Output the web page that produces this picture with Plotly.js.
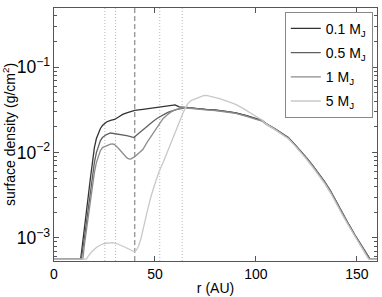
<!DOCTYPE html>
<html>
<head>
<meta charset="utf-8">
<script src="https://cdn.plot.ly/plotly-3.0.1.min.js"></script>
<style>html,body{margin:0;padding:0;background:#fff;}#chart{width:382px;height:297px;}</style>
</head>
<body>
<div id="chart"></div>
<script>
// Radius (AU) and surface density (g/cm^2) for each planet mass
const seriesNames = ["0.1 M<sub>J</sub>", "0.5 M<sub>J</sub>", "1 M<sub>J</sub>", "5 M<sub>J</sub>"];
const seriesColors = ["#333333", "#606060", "#8c8c8c", "#c8c8c8"];

const tailR = [66, 70, 75, 80, 85, 90, 95, 100, 103, 105, 107, 110, 113, 116, 119, 122, 125, 128, 131, 134, 137, 140, 143, 146, 149, 152, 154, 156, 156.5, 160];
const tailSigma = [0.0338, 0.0329, 0.0321, 0.0316, 0.0304, 0.0292, 0.0272, 0.0248, 0.0238, 0.0219, 0.0206, 0.0186, 0.0167, 0.0150, 0.0126, 0.01056, 0.00873, 0.00713, 0.00574, 0.00456, 0.00353, 0.00258, 0.00192, 0.00144, 0.00109, 0.000827, 0.000694, 0.000582, 0.000566, 0.000566];

const r01 = [0, 13.2, 14, 15, 16, 17, 18, 19, 20, 21, 22, 23, 24, 25, 26, 28, 30, 32, 34, 36, 38, 40, 44, 48, 52, 56, 59, 60, 62, 64];
const sigma01 = [0.000566, 0.000566, 0.000805, 0.001209, 0.001968, 0.00312, 0.004944, 0.00805, 0.01145, 0.01461, 0.01719, 0.01916, 0.02078, 0.02194, 0.02285, 0.02379, 0.02445, 0.02616, 0.0280, 0.02916, 0.03037, 0.0312, 0.03205, 0.03293, 0.03384, 0.03477, 0.03524, 0.03621, 0.0343, 0.03384];

const r05 = [0, 13.5, 15, 16, 17, 18, 19, 20, 21, 22, 23, 24, 26, 28, 30, 32, 34, 36, 38, 39.5, 41, 43, 45, 47, 49, 51, 53, 55, 57, 59, 61, 63, 65];
const sigma05 = [0.000566, 0.000566, 0.000973, 0.001501, 0.002379, 0.003572, 0.005362, 0.007627, 0.0100, 0.01209, 0.01384, 0.01501, 0.01628, 0.01696, 0.01673, 0.01651, 0.01628, 0.01585, 0.01542, 0.01501, 0.01606, 0.01766, 0.01942, 0.02135, 0.02316, 0.02512, 0.02688, 0.02838, 0.02996, 0.0312, 0.03205, 0.03267, 0.03338];

const r1 = [0, 14.3, 15, 16, 17, 18, 19, 20, 21, 22, 23, 24, 26, 28, 29, 30, 32, 34, 36, 37, 38, 40, 42, 44, 46, 48, 50, 52, 54, 56, 58, 60, 62, 64];
const sigma1 = [0.000566, 0.000566, 0.000805, 0.001209, 0.001916, 0.002876, 0.004202, 0.005818, 0.007627, 0.00922, 0.01056, 0.01145, 0.01209, 0.01259, 0.01266, 0.01242, 0.01115, 0.00973, 0.00873, 0.00843, 0.00838, 0.00897, 0.0100, 0.01085, 0.01311, 0.01542, 0.01865, 0.02135, 0.02492, 0.02762, 0.02996, 0.03162, 0.03293, 0.03384];

const r5 = [0, 16, 17, 19, 21, 23, 25, 27, 29, 31, 33, 35, 37, 39, 40, 41, 42, 43, 44, 45, 46, 47, 48, 50, 52, 54, 56, 58, 60, 62, 64, 66, 68, 70, 72, 74, 75.5, 78, 82, 86, 90, 94, 98, 101, 103, 105, 107, 110, 113, 116, 119, 122, 125, 128, 131, 134, 137, 140, 143, 146, 149, 152, 154, 155.8, 160];
const sigma5 = [0.000566, 0.000566, 0.000614, 0.000703, 0.000773, 0.000827, 0.000861, 0.000878, 0.00088, 0.000861, 0.000827, 0.000784, 0.000742, 0.000703, 0.000684, 0.000732, 0.000816, 0.000973, 0.001192, 0.001542, 0.001968, 0.002512, 0.003037, 0.004318, 0.005976, 0.007627, 0.0100, 0.01347, 0.01766, 0.02316, 0.02955, 0.03671, 0.0409, 0.0426, 0.04497, 0.04646, 0.04684, 0.04558, 0.04283, 0.03981, 0.03671, 0.0325, 0.02838, 0.02581, 0.02412, 0.0217, 0.0204, 0.0183, 0.0163, 0.0146, 0.0123, 0.0102, 0.0084, 0.0068, 0.0055, 0.00435, 0.00336, 0.00246, 0.00183, 0.00138, 0.00104, 0.00079, 0.00067, 0.000566, 0.000566];

const planetR = 40;
const resonanceR = [25.2, 30.5, 52.4, 63.5];

const xTicks = [0, 50, 100, 150];

function withTail(r, s, scale) {
  return {
    x: r.concat(tailR),
    y: s.concat(tailSigma.map(v => Math.max(v * scale, 0.000566)))
  };
}

const s01 = withTail(r01, sigma01, 1.0);
const s05 = withTail(r05, sigma05, 1.0);
const s1 = withTail(r1, sigma1, 0.985);
const allX = [s01.x, s05.x, s1.x, r5];
const allY = [s01.y, s05.y, s1.y, sigma5];

const traces = seriesNames.map((name, i) => ({
  type: 'scatter', mode: 'lines', name: name, legendgroup: 'g' + i,
  x: allX[i], y: allY[i],
  line: {color: seriesColors[i], width: 1.3}
}));

const shapes = [];
resonanceR.forEach(r => shapes.push({
  type: 'line', xref: 'x', yref: 'paper', x0: r, x1: r, y0: 0, y1: 1,
  line: {color: '#b8b8b8', width: 1, dash: '1px,2px'}, layer: 'below'
}));
shapes.push({
  type: 'line', xref: 'x', yref: 'paper', x0: planetR, x1: planetR, y0: 0, y1: 1,
  line: {color: '#8a8a8a', width: 1.2, dash: '5px,3px'}, layer: 'below'
});

const axisColor = '#555555';
const layout = {
  width: 382, height: 297,
  margin: {l: 54, r: 5, t: 8, b: 36},
  paper_bgcolor: '#ffffff', plot_bgcolor: '#ffffff',
  font: {family: 'Liberation Sans, Arial, sans-serif', size: 14, color: '#000'},
  showlegend: true,
  legend: {
    x: 0.987, y: 0.985, xanchor: 'right', yanchor: 'top',
    bgcolor: '#ffffff', bordercolor: '#888888', borderwidth: 1,
    font: {size: 14}, itemwidth: 30, tracegroupgap: 3
  },
  xaxis: {
    range: [0, 160], tickvals: xTicks, ticktext: xTicks.map(String),
    ticks: 'inside', ticklen: 5, tickcolor: axisColor,
    showline: true, linecolor: axisColor, linewidth: 1, mirror: 'ticks',
    showgrid: false, zeroline: false,
    tickfont: {size: 14},
    title: {text: 'r (AU)', font: {size: 14}, standoff: 2}
  },
  yaxis: {
    type: 'log', range: [-3.27, -0.306], dtick: 1, exponentformat: 'power',
    ticks: 'inside', ticklen: 5, tickcolor: axisColor,
    minor: {ticks: 'inside', ticklen: 3, tickcolor: axisColor, dtick: 'D1', showgrid: false},
    showline: true, linecolor: axisColor, linewidth: 1, mirror: 'ticks',
    showgrid: false, zeroline: false,
    tickfont: {size: 14},
    title: {text: 'surface density (g/cm<sup>2</sup>)', font: {size: 14}, standoff: 4}
  },
  shapes: shapes
};

Plotly.newPlot('chart', traces, layout, {staticPlot: true, displayModeBar: false});
</script>
</body>
</html>
